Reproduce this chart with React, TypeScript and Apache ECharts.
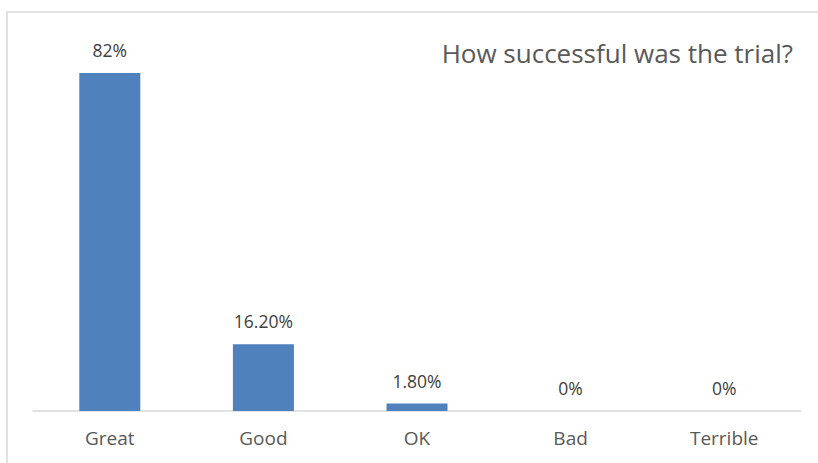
import React, { useEffect, useRef } from "react";
import * as echarts from "echarts";

const categories = ["Great", "Good", "OK", "Bad", "Terrible"];
const values = [82, 16.2, 1.8, 0, 0];
const valueLabels = ["82%", "16.20%", "1.80%", "0%", "0%"];
const titleText = "How successful was the trial?";

export default function App() {
  const ref = useRef<HTMLDivElement>(null);
  useEffect(() => {
    document.body.style.margin = "0";
    const chart = echarts.init(ref.current!, null, { renderer: "svg" });
    chart.setOption({
      animation: false,
      backgroundColor: "#ffffff",
      title: {
        text: titleText,
        right: 20,
        top: 35,
        textStyle: { fontFamily: "Open Sans", fontSize: 26, fontWeight: "normal", color: "#595959" },
      },
      graphic: [
        {
          type: "rect",
          shape: { x: 7, y: 12, width: 900, height: 600 },
          style: { fill: "none", stroke: "#d9d9d9", lineWidth: 1.5 },
          silent: true,
          z: -1,
        },
      ],
      grid: { left: 33, right: 17, top: 40, bottom: 52 },
      xAxis: {
        type: "category",
        data: categories,
        axisLine: { lineStyle: { color: "#d9d9d9", width: 1.5 } },
        axisTick: { show: false },
        axisLabel: { color: "#595959", fontFamily: "Open Sans", fontSize: 19, margin: 17 },
      },
      yAxis: {
        type: "value",
        min: 0,
        max: 90,
        show: false,
        splitLine: { show: false },
      },
      series: [
        {
          type: "bar",
          data: values,
          barWidth: 61,
          itemStyle: { color: "#4f81bd" },
          label: {
            show: true,
            position: "top",
            distance: 14,
            color: "#404040",
            fontFamily: "Open Sans",
            fontSize: 17.5,
            formatter: (p: any) => valueLabels[p.dataIndex],
          },
        },
      ],
    });
    return () => chart.dispose();
  }, []);
  return <div ref={ref} style={{ width: 818, height: 463 }} />;
}
